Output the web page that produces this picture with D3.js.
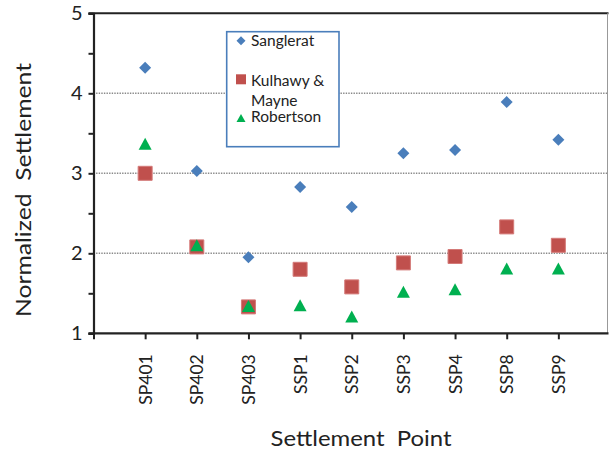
<!DOCTYPE html>
<html><head><meta charset="utf-8">
<script src="https://cdn.jsdelivr.net/npm/d3@7"></script>
<style>
html,body{margin:0;padding:0;background:#fff;}
svg{display:block;font-family:Lato,"Open Sans",sans-serif;}
</style></head>
<body>
<svg id="chart" width="609" height="451"></svg>
<script>
const categories = ["SP401","SP402","SP403","SSP1","SSP2","SSP3","SSP4","SSP8","SSP9"];
const sanglerat = [4.32, 3.03, 1.95, 2.83, 2.58, 3.25, 3.29, 3.89, 3.42];
const kulhawy   = [3.00, 2.08, 1.33, 1.80, 1.58, 1.88, 1.96, 2.33, 2.10];
const robertson = [3.37, 2.10, 1.34, 1.35, 1.21, 1.52, 1.55, 1.81, 1.81];
const yTicks = [1, 1.5, 2, 2.5, 3, 3.5, 4, 4.5, 5];
const gridValues = [2, 3, 4];
const legendLabels = [["Sanglerat"], ["Kulhawy &", "Mayne"], ["Robertson"]];
const xTitle = "Settlement  Point";
const yTitle = "Normalized  Settlement";

(function () {
const svg = d3.select("#chart");
const pLeft = 93.5, pRight = 610, pTop = 13.3, pBottom = 333.3, plotRight = 607.5;
const x = d3.scaleLinear().domain([0, 10]).range([pLeft, pRight]);
const y = d3.scaleLinear().domain([1, 5]).range([pBottom, pTop]);

const colors = {s: "#4a7ebb", k: "#c0504d", r: "#00b050"};

// gridlines
svg.append("g").selectAll("line").data(gridValues).join("line")
  .attr("x1", pLeft).attr("x2", plotRight)
  .attr("y1", d => y(d)).attr("y2", d => y(d))
  .attr("stroke", "#8a8a8a").attr("stroke-width", 1.4).attr("stroke-dasharray", "1.4,1.2");

// top border and right border
svg.append("line").attr("x1", pLeft - 5).attr("x2", plotRight + 1).attr("y1", y(5)).attr("y2", y(5))
  .attr("stroke", "#222").attr("stroke-width", 2);
svg.append("line").attr("x1", plotRight).attr("x2", plotRight).attr("y1", y(5)).attr("y2", y(1))
  .attr("stroke", "#999").attr("stroke-width", 1);

// y axis
const yAxis = svg.append("g").attr("transform", `translate(${pLeft},0)`)
  .call(d3.axisLeft(y).tickValues(yTicks).tickSize(5).tickPadding(6)
    .tickFormat(d => Number.isInteger(d) ? d : ""));
yAxis.attr("font-family", "Lato, sans-serif");
yAxis.select(".domain").attr("stroke", "#222").attr("stroke-width", 2.2);
yAxis.selectAll(".tick line").attr("stroke", "#222").attr("stroke-width", 2);
yAxis.selectAll(".tick text").attr("font-size", 20).attr("fill", "#222").attr("x", -11);

// x axis
const xAxis = svg.append("g").attr("transform", `translate(0,${pBottom})`)
  .call(d3.axisBottom(x).tickValues(d3.range(0, 10)).tickSize(6).tickFormat(d => d >= 1 ? categories[d - 1] : ""));
xAxis.attr("font-family", "Lato, sans-serif");
xAxis.select(".domain").attr("stroke", "#222").attr("stroke-width", 2.2)
  .attr("d", `M${pLeft - 5},0H${plotRight + 1}`);
xAxis.selectAll(".tick line").attr("stroke", "#222").attr("stroke-width", 2);
xAxis.selectAll(".tick text").attr("font-size", 17.5).attr("fill", "#222")
  .attr("transform", "rotate(-90)").attr("text-anchor", "end")
  .attr("x", -21).attr("y", 0).attr("dy", "0.35em");

// axis titles
svg.append("text").attr("x", 361).attr("y", 446).attr("text-anchor", "middle")
  .attr("font-size", 22).attr("fill", "#222").attr("textLength", 181).attr("lengthAdjust", "spacingAndGlyphs")
  .style("white-space", "pre").text(xTitle);
svg.append("text").attr("transform", "translate(31,190) rotate(-90)").attr("text-anchor", "middle")
  .attr("font-size", 22).attr("fill", "#222").attr("textLength", 254).attr("lengthAdjust", "spacingAndGlyphs")
  .style("white-space", "pre").text(yTitle);

// marker paths
const diamond = s => `M0,${-s / 2}L${s / 2},0L0,${s / 2}L${-s / 2},0Z`;
const square = s => `M${-s / 2},${-s / 2}H${s / 2}V${s / 2}H${-s / 2}Z`;
const triangle = (w, h) => `M0,${-h / 2}L${w / 2},${h / 2}H${-w / 2}Z`;

const pts = svg.append("g");
pts.selectAll(".s").data(sanglerat).join("path").attr("class", "s")
  .attr("transform", (d, i) => `translate(${x(i + 1)},${y(d)})`)
  .attr("d", diamond(12)).attr("fill", colors.s);
pts.selectAll(".k").data(kulhawy).join("path").attr("class", "k")
  .attr("transform", (d, i) => `translate(${x(i + 1)},${y(d)})`)
  .attr("d", square(14)).attr("fill", colors.k).attr("stroke", "#d47a78").attr("stroke-width", 1);
pts.selectAll(".r").data(robertson).join("path").attr("class", "r")
  .attr("transform", (d, i) => `translate(${x(i + 1)},${y(d)})`)
  .attr("d", triangle(13, 12)).attr("fill", colors.r);

// legend
const lg = svg.append("g");
lg.append("rect").attr("x", 226.7).attr("y", 31.7).attr("width", 112.3).attr("height", 115)
  .attr("fill", "#fff").attr("stroke", "#4a7ebb").attr("stroke-width", 1.6);
lg.append("path").attr("transform", "translate(241,40.7)").attr("d", diamond(9)).attr("fill", colors.s);
lg.append("path").attr("transform", "translate(241,79.3)").attr("d", square(10)).attr("fill", colors.k);
lg.append("path").attr("transform", "translate(241,118)").attr("d", triangle(9, 8)).attr("fill", colors.r);
const lgText = [[251, 46, legendLabels[0][0]], [251, 85.5, legendLabels[1][0]], [251, 105.5, legendLabels[1][1]], [251, 122, legendLabels[2][0]]];
lg.selectAll("text").data(lgText).join("text")
  .attr("x", d => d[0]).attr("y", d => d[1]).attr("font-size", 15.5).attr("fill", "#222")
  .text(d => d[2]);
})();
</script>
</body></html>
